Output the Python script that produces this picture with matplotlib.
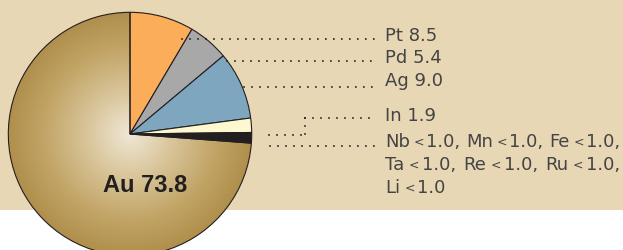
import matplotlib
matplotlib.use("Agg")
import matplotlib.pyplot as plt
import numpy as np
from matplotlib.patches import Rectangle
from matplotlib.colors import LinearSegmentedColormap

# ---- data ----
elements = ["Pt", "Pd", "Ag", "In", "Other", "Au"]
values = [8.5, 5.4, 9.0, 1.9, 1.4, 73.8]
major_labels = ["Pt 8.5", "Pd 5.4", "Ag 9.0", "In 1.9"]
minor_rows = [["Nb", "Mn", "Fe"], ["Ta", "Re", "Ru"], ["Li"]]
minor_value = "1.0"
au_label = "Au 73.8"

# ---- style / layout ----
slice_colors = ["#fbad5a", "#a9a8a8", "#7fa6bf", "#fdf8cf", "#231f20", "none"]
dark = "#231f20"
beige = "#e8d7b5"
W, H = 623, 251

fig = plt.figure(figsize=(W / 100, H / 100), dpi=100, facecolor="white")
ax = fig.add_axes([0, 0, 1, 1])
ax.axis("off")

ax.add_patch(Rectangle((0, H - 211), W, 211, color=beige, zorder=0, lw=0))

cx, cy, R = 130, H - 135, 121.7
wedges, _ = ax.pie(values, colors=slice_colors, startangle=90, counterclock=False,
                   center=(cx, cy), radius=R, frame=True,
                   wedgeprops=dict(edgecolor=dark, linewidth=0.8, zorder=3))

# radial gradient for the Au slice
cmap = LinearSegmentedColormap.from_list(
    "au", [(0, "#efe7d5"), (0.35, "#d9c59a"), (0.7, "#c2a567"), (1.0, "#b08f4c")])
n = 500
yy, xx = np.mgrid[-1:1:n * 1j, -1:1:n * 1j]
rr = np.clip(np.sqrt(xx ** 2 + yy ** 2), 0, 1)
im = ax.imshow(rr, cmap=cmap, extent=[cx - R, cx + R, cy - R, cy + R],
               origin="lower", zorder=2, interpolation="bilinear", aspect="auto")
im.set_clip_path(wedges[5])
ax.set_xlim(0, W)
ax.set_ylim(0, H)
ax.set_aspect("auto")

ax.text(145, H - 191.7, au_label, ha="center", va="baseline", fontsize=17,
        fontweight="bold", family="Liberation Sans", color=dark, zorder=5)


def dots(xs, ys):
    ax.plot(xs, [H - y for y in ys], color=dark, lw=1.4, linestyle=(0, (0.01, 4.1)),
            dash_capstyle="round", zorder=6)


dots([182, 375], [40, 40])
dots([226.5, 375], [62.3, 62.3])
dots([244, 372], [87.5, 87.5])
dots([305, 375], [119, 119])
dots([305, 305], [119, 135.7])
dots([268.5, 305], [135.7, 135.7])
dots([270, 375], [147, 147])

FS = 13.0
FS_LT = 9.0
tk = dict(family="DejaVu Sans", color="#444444", va="baseline", ha="left")
tx = 385
baselines = [41.0, 63.0, 86.5, 121.0]
for lab, b in zip(major_labels, baselines):
    ax.text(tx, H - b, lab, fontsize=FS, **tk)

fig.canvas.draw()
renderer = fig.canvas.get_renderer()
inv = ax.transData.inverted()


def width(t):
    bb = t.get_window_extent(renderer)
    p0 = inv.transform((bb.x0, bb.y0))[0]
    p1 = inv.transform((bb.x1, bb.y0))[0]
    return p1 - p0


row_baselines = [147.0, 170.0, 193.0]
row_end = 620.0
base_gaps = {"el": 3.0, "lt": 0.8, "grp": 5.5}

rows = []
for row, b in zip(minor_rows, row_baselines):
    toks = []
    for k, el in enumerate(row):
        comma = "," if len(row) > 1 else ""
        toks.append((ax.text(0, H - b, el, fontsize=FS, **tk), "el", 0.0))
        toks.append((ax.text(0, H - b + 1.3, "<", fontsize=FS_LT, **tk), "lt", 1.3))
        toks.append((ax.text(0, H - b, minor_value + comma, fontsize=FS, **tk), "grp", 0.0))
    rows.append(toks)

extras = []
for toks in rows:
    if len(toks) > 3:
        total = sum(width(t) for t, _, _ in toks) + sum(base_gaps[g] for _, g, _ in toks[:-1])
        extras.append((row_end - tx - total) / (len(toks) - 1))
extra = max(0.0, float(np.mean(extras))) if extras else 0.0

for toks, b in zip(rows, row_baselines):
    x = tx
    if len(toks) > 3:
        total = sum(width(t) for t, _, _ in toks) + sum(base_gaps[g] for _, g, _ in toks[:-1])
        e = max(0.0, (row_end - tx - total) / (len(toks) - 1))
    else:
        e = extra
    for t, g, dy in toks:
        t.set_position((x, H - b + dy))
        x += width(t) + base_gaps[g] + e

fig.savefig("out.png", dpi=100, facecolor="white")
